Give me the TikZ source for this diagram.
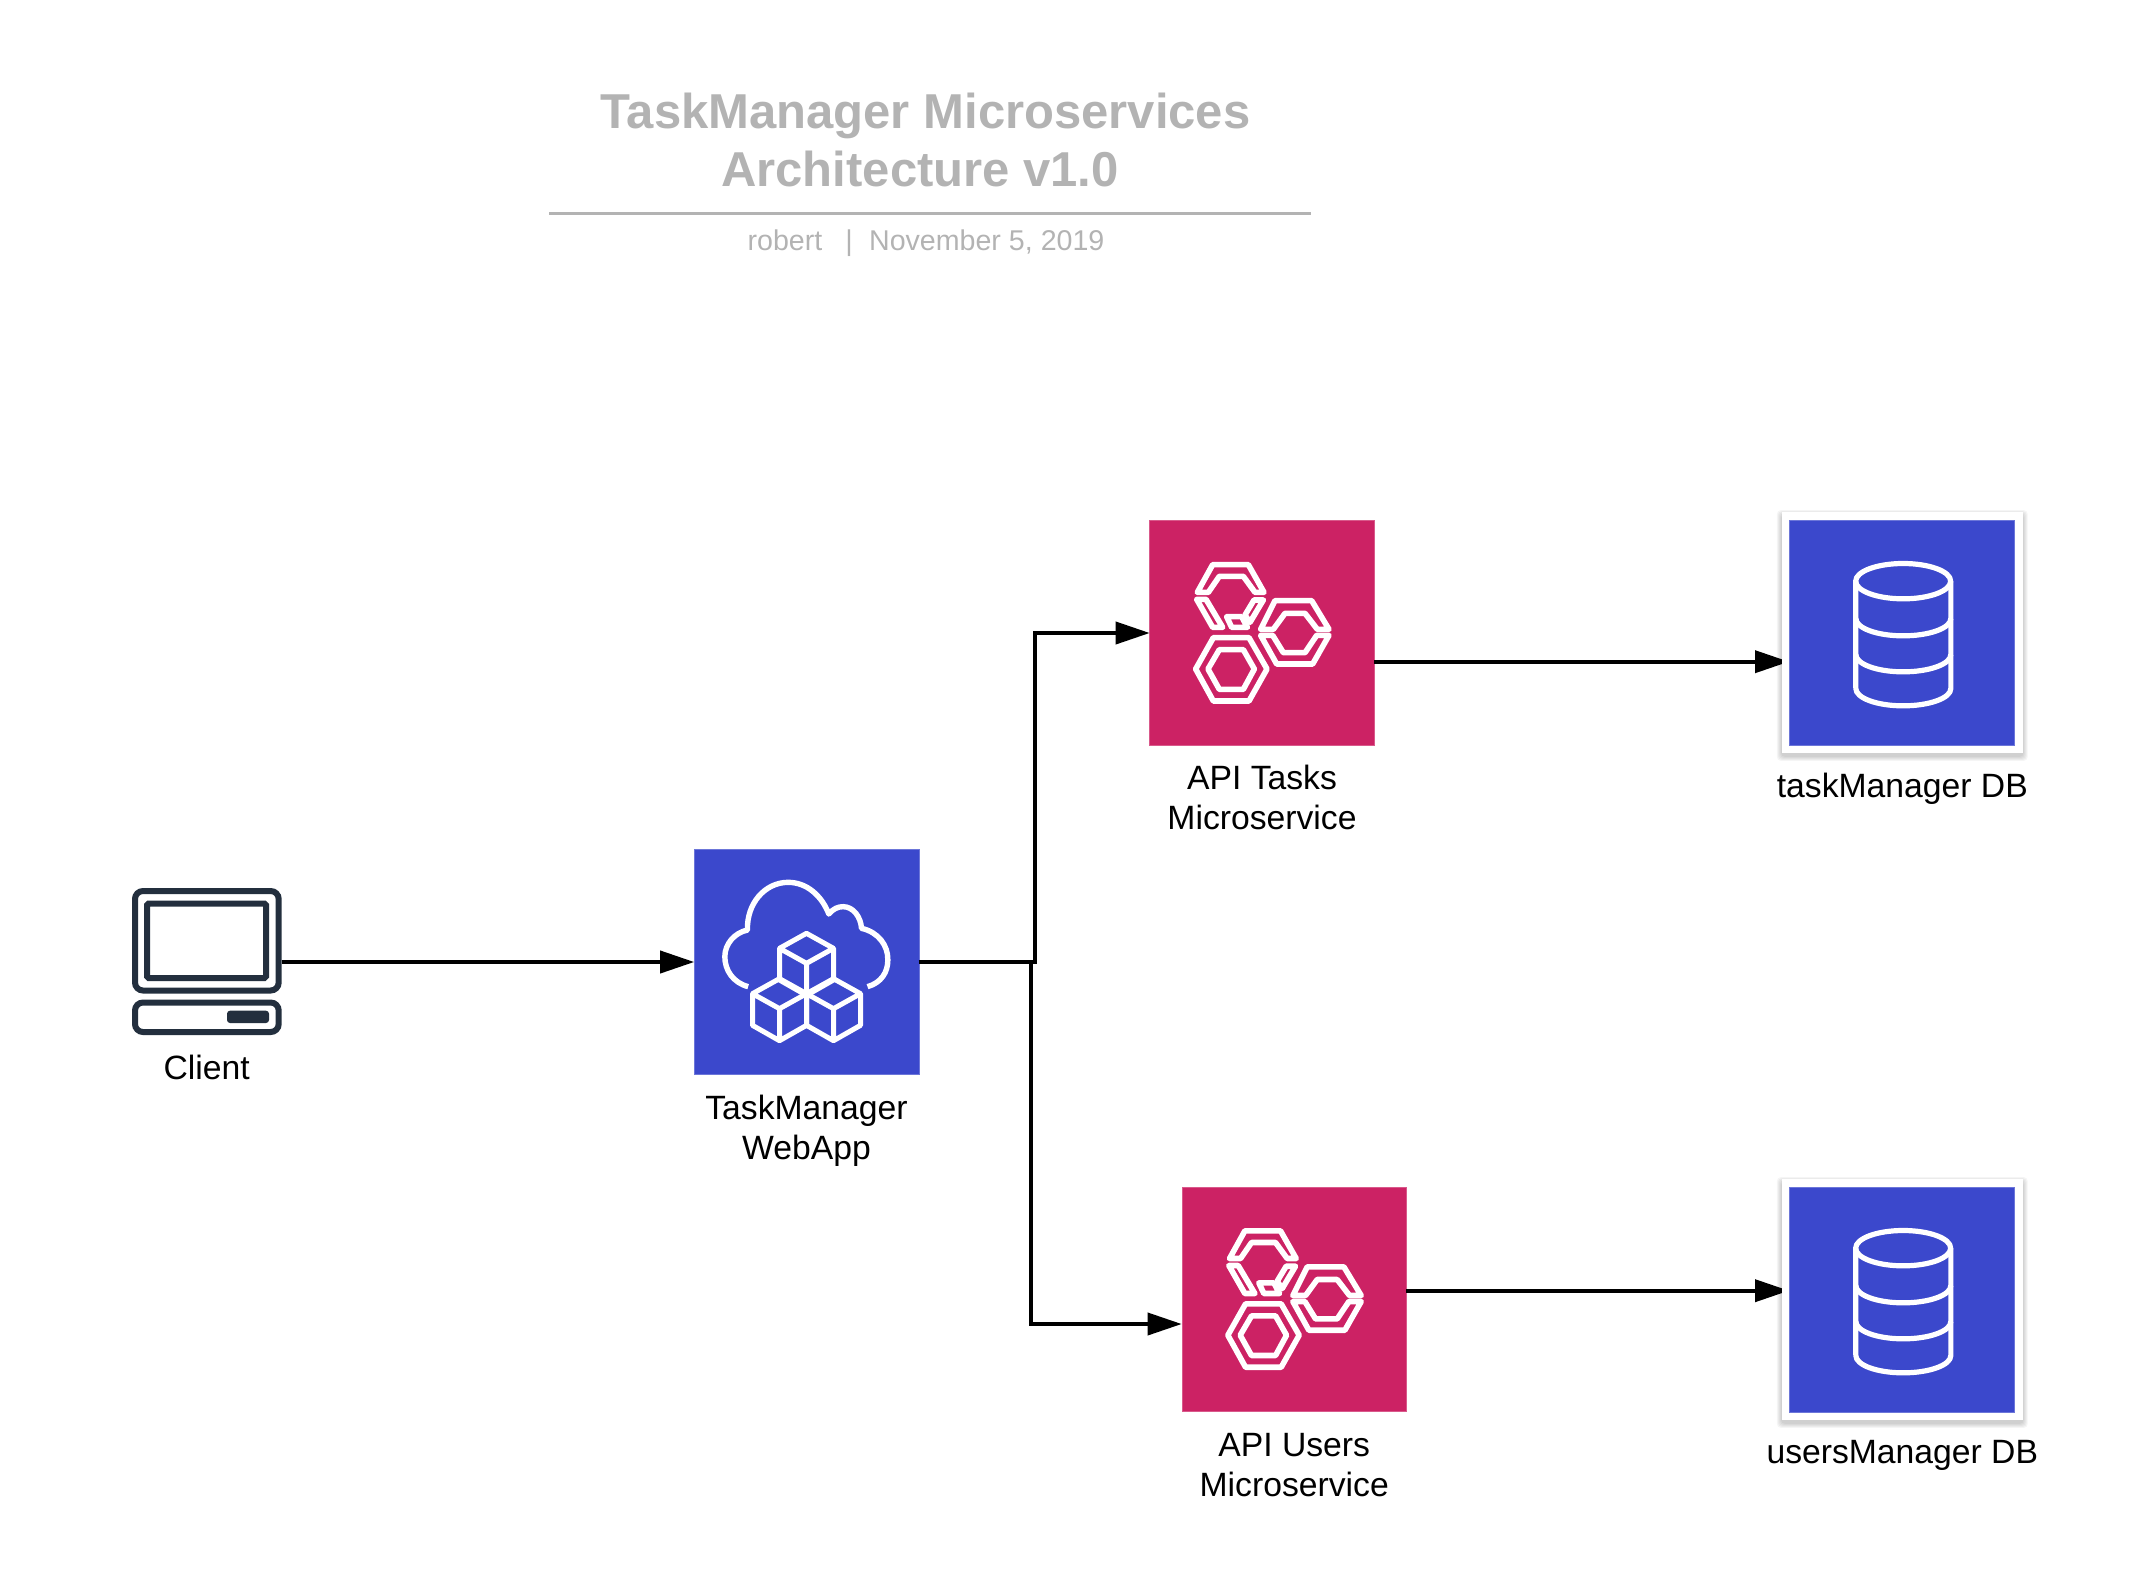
\documentclass[tikz,border=0pt]{standalone}
\usepackage{fontspec}
\setmainfont{Liberation Sans}
\usetikzlibrary{positioning}
\usetikzlibrary{arrows.meta}
\definecolor{awsblue}{HTML}{3B48CC}
\definecolor{awsred}{HTML}{CC2264}
\definecolor{awsnavy}{HTML}{232F3E}
\definecolor{titlegray}{HTML}{B3B3B3}
\tikzset{
  bluebox/.style={fill=awsblue,draw=awsblue!75!white,line width=.3pt,minimum size=112.3pt,inner sep=0pt,outer sep=0pt},
  redbox/.style={fill=awsred,draw=awsred!75!white,line width=.3pt,minimum size=112.3pt,inner sep=0pt,outer sep=0pt},
  framebox/.style={fill=white,minimum size=120.4pt,inner sep=0pt,outer sep=0pt},
  blankbox/.style={minimum width=75pt,minimum height=73.5pt,inner sep=0pt,outer sep=0pt},
  lbl/.style={font=\fontsize{16.85}{20}\selectfont,align=center,inner sep=0pt,outer sep=0pt},
  ttl/.style={font=\fontsize{24.5}{29}\selectfont\bfseries,text=titlegray,anchor=base,inner sep=0pt},
  subttl/.style={font=\fontsize{14.3}{18}\selectfont,text=titlegray,anchor=base,inner sep=0pt},
  conn/.style={line width=1.9pt,-{Triangle[length=17pt,width=11pt]}},
  glyph/.style={draw=white,line width=2.3pt,line join=round},
  pc/.style={draw=awsnavy,line width=3pt}
}
% one unit of the icon macros is a third of a pixel, from the middle of the box
\newcommand{\cube}[2]{
  \draw[glyph,line width=2.5pt,shift={(#1,#2)}] (0,0) -- (81,45) -- (81,140) -- (0,186) -- (-81,140) -- (-81,45) -- cycle
    (-81,45) -- (0,90) -- (81,45) (0,90) -- (0,186);}
\newcommand{\cloudicon}[1]{
  \begin{scope}[shift={(#1)},x=.16667pt,y=-.16667pt]
    \draw[glyph,line width=2.7pt] (-175,74) .. controls (-220,62) and (-245,25) .. (-245,-16)
      .. controls (-245,-55) and (-215,-88) .. (-177,-96)
      .. controls (-180,-175) and (-125,-239) .. (-55,-239)
      .. controls (0,-239) and (45,-200) .. (67,-144)
      .. controls (80,-160) and (95,-166) .. (110,-166)
      .. controls (140,-166) and (163,-135) .. (165,-101)
      .. controls (215,-90) and (245,-50) .. (244,-6)
      .. controls (244,30) and (225,62) .. (183,74);
    \cube{0}{-86}
    \cube{-81}{50}
    \cube{81}{50}
  \end{scope}}
\newcommand{\hexicon}[1]{
  \begin{scope}[shift={(#1)},x=.16667pt,y=-.16667pt,glyph/.append style={line width=2.8pt}]
    % lower hexagon
    \draw[glyph] (-199,108) -- (-146,14) -- (-39,14) -- (15,108) -- (-39,204) -- (-146,204) -- cycle;
    \draw[glyph] (-162,108) -- (-128,50) -- (-56,50) -- (-23,108) -- (-56,169) -- (-128,169) -- cycle;
    % upper hexagon, broken
    \draw[glyph] (-194,-122) -- (-148,-205) -- (-41,-205) -- (6,-122) -- (-21,-122) -- (-56,-170) -- (-128,-170) -- (-161,-122) -- cycle;
    \draw[glyph] (-196,-101) -- (-168,-101) -- (-118,-17) -- (-148,-17) -- cycle;
    \draw[glyph] (-106,-49) -- (-61,-49) -- (-44,-17) -- (-91,-17) -- cycle;
    \draw[glyph] (-24,-99) -- (4,-99) -- (-36,-32) -- (-51,-54) -- cycle;
    % right hexagon, broken
    \draw[glyph] (-4,-11) -- (39,-97) -- (149,-97) -- (201,-11) -- (166,-11) -- (129,-59) -- (69,-59) -- (34,-11) -- cycle;
    \draw[glyph] (-4,7) -- (32,7) -- (64,59) -- (129,59) -- (164,7) -- (201,7) -- (152,93) -- (44,93) -- cycle;
  \end{scope}}
\newcommand{\band}[1]{(-137,#1) .. controls (-137,{#1+29}) and (-73,{#1+52}) .. (5,{#1+52}) .. controls (83,{#1+52}) and (148,{#1+29}) .. (148,#1)}
\newcommand{\dbicon}[1]{
  \begin{scope}[shift={(#1)},x=.16667pt,y=-.16667pt,glyph/.append style={line width=2.6pt}]
    \draw[glyph] (5,-154) ellipse [x radius=142.5,y radius=53];
    \draw[glyph] (-137,-154) -- (-137,168) \band{168} -- (148,-154);
    \draw[glyph] \band{-42};
    \draw[glyph] \band{66};
  \end{scope}}
\newcommand{\dbshadow}[2]{
  \foreach \s in {5,4,...,1} {
    \fill[black,opacity=.04,rounded corners=2pt] ({#1-120.4-\s},{#2-120.4-\s+3}) rectangle ({#1+120.4+\s},{#2+120.4+\s+3});
  }}

\begin{document}
\begin{tikzpicture}[x=.5pt,y=-.5pt]
  \useasboundingbox (0,0) rectangle (2154,1569);
  % title
  \node[ttl] (titleone) at (925.5,128) {TaskManager Microservices};
  \node[ttl] (titletwo) at (920,186) {Architecture v1.0};
  \coordinate (ruleleft) at (549,213.3);
  \coordinate (ruleright) at (1311,213.3);
  \draw[titlegray,line width=1.5pt] (ruleleft) -- (ruleright);
  \node[subttl] (byline) at (926,250) {robert\hspace{11.6pt}|\hspace{8.1pt}November 5, 2019};
  % client
  \node[blankbox] (client) at (206.7,962) {};
  \draw[pc,rounded corners=4pt] (135,891) rectangle (278.7,990.5);
  \draw[pc,rounded corners=.8pt] (147,903.5) rectangle (266,978);
  \draw[pc,rounded corners=4pt] (135,1002.5) rectangle (278.7,1032);
  \fill[awsnavy,rounded corners=1.5pt] (227,1010.7) rectangle (269,1023);
  \node[lbl,below=9.9pt of client.south] (clientlbl) {Client};
  % webapp
  \node[bluebox] (webapp) at (806.5,962) {};
  \cloudicon{webapp.center}
  \node[lbl,below=10.2pt of webapp.south] (webapplbl) {TaskManager\\WebApp};
  % microservices
  \node[redbox] (tasks) at (1262,633) {};
  \hexicon{tasks.center}
  \node[lbl,below=9.9pt of tasks.south] (taskslbl) {API Tasks\\Microservice};
  \node[redbox] (users) at (1294.2,1299.2) {};
  \hexicon{users.center}
  \node[lbl,below=10.7pt of users.south] (userslbl) {API Users\\Microservice};
  % connectors into the databases run under the white frames
  \coordinate (tasksout) at (1374.2,661.7);
  \coordinate (usersout) at (1406.4,1290.7);
  \coordinate (dbtasksin) at (1789,661.7);
  \coordinate (dbusersin) at (1789,1290.7);
  \draw[conn] (tasksout) -- (dbtasksin);
  \draw[conn] (usersout) -- (dbusersin);
  % databases
  \dbshadow{1902.3}{632.5}
  \node[framebox] (dbtasksframe) at (1902.3,632.5) {};
  \node[bluebox] (dbtasks) at (1901.5,632.5) {};
  \dbicon{dbtasks.center}
  \node[lbl,below=10.3pt of dbtasksframe.south] (dbtaskslbl) {taskManager DB};
  \dbshadow{1902.3}{1299.5}
  \node[framebox] (dbusersframe) at (1902.3,1299.5) {};
  \node[bluebox] (dbusers) at (1901.5,1299.5) {};
  \dbicon{dbusers.center}
  \node[lbl,below=10.3pt of dbusersframe.south] (dbuserslbl) {usersManager DB};
  % other connectors
  \coordinate (splitup) at (1035,962);
  \coordinate (splitdown) at (1031.3,962);
  \coordinate (usersin) at (1181.7,1324);
  \draw[conn] (client.east) -- (webapp.west);
  \draw[conn] (webapp.east) -- (splitup) |- (tasks.west);
  \draw[conn] (webapp.east) -- (splitdown) |- (usersin);
\end{tikzpicture}
\end{document}
